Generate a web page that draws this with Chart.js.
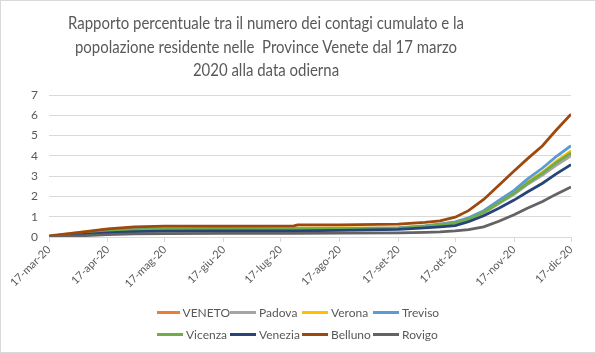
<!DOCTYPE html>
<html>
<head>
<meta charset="utf-8">
<script src="https://cdn.jsdelivr.net/npm/chart.js@4.4.1/dist/chart.umd.min.js"></script>
<style>
  html, body { margin: 0; padding: 0; background: #fff; }
  #wrap { position: relative; width: 594px; height: 351px; border: 1px solid #d9d9d9; }
  #title {
    position: absolute; left: 0; top: 10px; width: 530px;
    text-align: center; font: 17px/23.5px Lato, sans-serif; color: #595959;
    transform: scaleX(0.88); transform-origin: 265px 0; white-space: pre;
  }
  #legend {
    position: absolute; left: 156px; top: 300px;
    display: grid; grid-template-columns: 73px 72px 71px 70px; grid-auto-rows: 22px;
    font: 12px Lato, sans-serif; color: #595959;
  }
  #legend span.item { display: flex; align-items: center; white-space: nowrap; }
  #legend span.sw { display: inline-block; width: 26px; height: 3px; margin-right: 3px; }
</style>
</head>
<body>
<div id="wrap">
  <canvas id="chart" width="594" height="351"></canvas>
  <div id="title"></div>
  <div id="legend"></div>
</div>
<script>
const ctx = document.getElementById("chart");

// days since 17-mar-20
const days = [0, 15, 31, 45, 61, 92, 129, 131, 153, 184, 198, 206, 214, 221, 229, 237, 245, 252, 260, 267, 275];

const tickDays = [0, 31, 61, 92, 122, 153, 184, 214, 245, 275];
const tickLabels = ["17-mar-20", "17-apr-20", "17-mag-20", "17-giu-20", "17-lug-20", "17-ago-20", "17-set-20", "17-ott-20", "17-nov-20", "17-dic-20"];

const titleLines = [
  "Rapporto percentuale tra il numero dei contagi cumulato e la",
  "popolazione residente nelle  Province Venete dal 17 marzo",
  "2020 alla data odierna"
];

const veneto  = [0.02, 0.15, 0.28, 0.36, 0.38, 0.40, 0.40, 0.40, 0.41, 0.43, 0.52, 0.60, 0.70, 0.88, 1.20, 1.68, 2.15, 2.62, 3.10, 3.60, 4.10];
const padova  = [0.03, 0.17, 0.30, 0.35, 0.37, 0.38, 0.38, 0.38, 0.39, 0.42, 0.50, 0.58, 0.68, 0.86, 1.18, 1.65, 2.10, 2.58, 3.05, 3.52, 4.00];
const verona  = [0.03, 0.22, 0.38, 0.42, 0.43, 0.44, 0.44, 0.44, 0.45, 0.46, 0.55, 0.63, 0.72, 0.90, 1.22, 1.72, 2.20, 2.70, 3.20, 3.72, 4.25];
const treviso = [0.03, 0.17, 0.30, 0.37, 0.39, 0.40, 0.40, 0.40, 0.41, 0.45, 0.55, 0.63, 0.75, 0.95, 1.30, 1.80, 2.30, 2.85, 3.40, 3.95, 4.50];
const vicenza = [0.02, 0.15, 0.27, 0.36, 0.38, 0.40, 0.40, 0.40, 0.41, 0.43, 0.52, 0.60, 0.70, 0.88, 1.22, 1.68, 2.15, 2.65, 3.15, 3.65, 4.15];
const venezia = [0.02, 0.10, 0.20, 0.27, 0.29, 0.30, 0.30, 0.30, 0.33, 0.38, 0.45, 0.50, 0.56, 0.75, 1.05, 1.42, 1.82, 2.22, 2.65, 3.10, 3.57];
const belluno = [0.05, 0.22, 0.40, 0.50, 0.53, 0.54, 0.55, 0.60, 0.60, 0.63, 0.72, 0.80, 0.98, 1.30, 1.85, 2.55, 3.25, 3.85, 4.50, 5.25, 6.05];
const rovigo  = [0.01, 0.05, 0.12, 0.16, 0.17, 0.18, 0.18, 0.18, 0.19, 0.20, 0.23, 0.25, 0.30, 0.36, 0.50, 0.78, 1.10, 1.42, 1.75, 2.10, 2.47];

const series = [
  ["VENETO", veneto, "#ED7D31"],
  ["Padova", padova, "#A5A5A5"],
  ["Verona", verona, "#FFC000"],
  ["Treviso", treviso, "#5B9BD5"],
  ["Vicenza", vicenza, "#70AD47"],
  ["Venezia", venezia, "#264478"],
  ["Belluno", belluno, "#9E480E"],
  ["Rovigo", rovigo, "#636363"],
];

const textColor = "#595959";
const gridColor = "#d9d9d9";

new Chart(ctx, {
  type: "line",
  data: {
    datasets: series.map(([name, vals, color], i) => ({
      label: name,
      data: vals.map((v, j) => ({ x: days[j], y: v })),
      borderColor: color,
      backgroundColor: color,
      borderWidth: 2.75,
      pointRadius: 0,
      tension: 0,
      order: series.length - i,
    })),
  },
  options: {
    responsive: false,
    animation: false,
    layout: { padding: { left: 0, right: 24, top: 94, bottom: 0 } },
    plugins: {
      legend: { display: false },
      tooltip: { enabled: false },
      title: { display: false },
    },
    scales: {
      x: {
        type: "linear",
        min: 0,
        max: 275,
        afterBuildTicks: (s) => { s.ticks = tickDays.map((v) => ({ value: v })); },
        afterFit: (s) => { s.height = 115; },
        ticks: {
          autoSkip: false,
          minRotation: 45,
          maxRotation: 45,
          padding: 1,
          color: textColor,
          font: { family: "Lato", size: 11 },
          callback: (v) => tickLabels[tickDays.indexOf(v)],
        },
        grid: { drawOnChartArea: false, drawTicks: true, tickLength: 5, color: gridColor },
        border: { color: gridColor },
      },
      y: {
        min: 0,
        max: 7,
        afterFit: (s) => { s.width = 48; },
        ticks: { stepSize: 1, padding: 11, color: textColor, font: { family: "Lato", size: 12 } },
        grid: { color: gridColor, drawTicks: false },
        border: { display: false },
      },
    },
  },
});

document.getElementById("title").textContent = titleLines.join("\n");

// legend laid out like the original: two rows of four
const legend = document.getElementById("legend");
series.forEach(([name, , color]) => {
  const item = document.createElement("span");
  item.className = "item";
  const sw = document.createElement("span");
  sw.className = "sw";
  sw.style.background = color;
  item.appendChild(sw);
  item.appendChild(document.createTextNode(name));
  legend.appendChild(item);
});
</script>
</body>
</html>
